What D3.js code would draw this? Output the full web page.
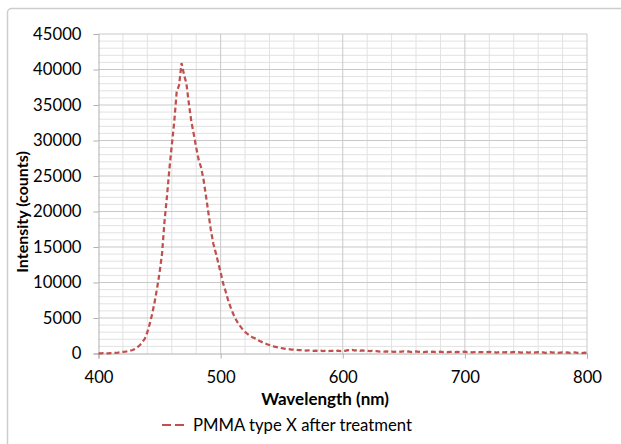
<!DOCTYPE html>
<html>
<head>
  <style>
    body {
      margin: 0;
      background: #fff;
    }
    text {
      font-family: Lato, "Open Sans", sans-serif;
      fill: #000;
    }
    .tick text {
      font-size: 16.7px;
    }
    .axis-title {
      font-weight: bold;
      font-size: 17px;
    }
  </style>
</head>
<body>
  <script src="https://d3js.org/d3.v7.min.js"></script>
  <script>
    // spectrum sampled every 2 nm from 400 to 800 nm
    var wlStart = 400, wlStep = 2;
    var counts = [
      20, 10, 40, 0, 30, 50, 60, 90, 120, 170, 220, 260, 330, 400, 490, 650, 900, 1200, 1600, 2100,
      3000, 4200, 5600, 7300, 9200, 11400, 14000, 18500, 22000, 25900, 29300, 32600, 36800, 37800, 40900, 39300, 38000, 35200, 32700, 30900,
      29000, 27300, 26200, 24500, 22200, 19800, 17400, 15500, 14200, 12800, 11400, 9900, 8800, 7600, 6600, 5700, 4950, 4350, 3850, 3400,
      3050, 2750, 2500, 2300, 2150, 1950, 1750, 1600, 1450, 1300, 1200, 1080, 980, 900, 820, 750, 700, 640, 600, 560,
      530, 510, 480, 470, 450, 420, 440, 400, 380, 420, 360, 390, 350, 400, 330, 380, 360, 300, 410, 350,
      430, 380, 470, 400, 500, 420, 480, 390, 450, 360, 400, 330, 370, 300, 340, 280, 320, 260, 300, 240,
      280, 230, 270, 220, 260, 300, 240, 280, 210, 250, 290, 230, 260, 200, 240, 280, 220, 250, 190, 230,
      270, 210, 240, 180, 220, 260, 200, 230, 170, 210, 250, 190, 220, 160, 200, 240, 180, 210, 150, 190,
      230, 170, 200, 140, 180, 220, 160, 190, 130, 170, 210, 150, 180, 120, 160, 200, 140, 170, 110, 150,
      190, 130, 160, 100, 140, 180, 120, 150, 90, 130, 170, 110, 140, 80, 120, 160, 100, 130, 70, 110, 100
    ];
    var xTicks = [400, 500, 600, 700, 800];
    var yTicks = [0, 5000, 10000, 15000, 20000, 25000, 30000, 35000, 40000, 45000];
    var seriesName = "PMMA type X after treatment";

    var W = 621, H = 444;
    var margin = {top: 34, right: 34, bottom: 90.5, left: 98.5};
    var width = W - margin.left - margin.right,
        height = H - margin.top - margin.bottom;

    var svg = d3.select("body").append("svg")
        .attr("width", W)
        .attr("height", H);

    // chart area frame
    svg.append("rect")
        .attr("x", 7.5).attr("y", 8.5)
        .attr("width", W + 20).attr("height", H + 20)
        .attr("rx", 4)
        .attr("fill", "none")
        .attr("stroke", "#cdcdcd")
        .attr("stroke-width", 1.5);

    var g = svg.append("g")
        .attr("transform", "translate(" + margin.left + "," + margin.top + ")");

    var x = d3.scaleLinear().domain([400, 800]).range([0, width]);
    var y = d3.scaleLinear().domain([0, 45000]).range([height, 0]);

    // minor grid
    g.append("g").selectAll("line")
        .data(d3.range(420, 800, 20).filter(d => d % 100 !== 0))
      .enter().append("line")
        .attr("x1", d => x(d)).attr("x2", d => x(d))
        .attr("y1", 0).attr("y2", height)
        .attr("stroke", "#e2e2e2");
    g.append("g").selectAll("line")
        .data(d3.range(1000, 45000, 1000).filter(d => d % 5000 !== 0))
      .enter().append("line")
        .attr("y1", d => y(d)).attr("y2", d => y(d))
        .attr("x1", 0).attr("x2", width)
        .attr("stroke", "#e2e2e2");

    // major grid
    g.append("g").selectAll("line")
        .data(xTicks.slice(1))
      .enter().append("line")
        .attr("x1", d => x(d)).attr("x2", d => x(d))
        .attr("y1", 0).attr("y2", height)
        .attr("stroke", "#c9c9c9");
    g.append("g").selectAll("line")
        .data(yTicks.slice(1))
      .enter().append("line")
        .attr("y1", d => y(d)).attr("y2", d => y(d))
        .attr("x1", 0).attr("x2", width)
        .attr("stroke", "#c9c9c9");

    var yAxis = g.append("g")
        .call(d3.axisLeft(y).tickValues(yTicks).tickSize(5).tickPadding(12).tickFormat(d3.format("d")));
    var xAxis = g.append("g")
        .attr("transform", "translate(0," + height + ")")
        .call(d3.axisBottom(x).tickValues(xTicks).tickSize(5).tickPadding(13));
    [xAxis, yAxis].forEach(a => {
      a.select(".domain").attr("stroke", "#b0b0b0");
      a.selectAll(".tick line").attr("stroke", "#b0b0b0");
      a.selectAll("text").attr("font-family", null).attr("font-size", null);
    });

    var line = d3.line()
        .x((d, i) => x(wlStart + i * wlStep))
        .y(d => y(d));

    g.append("path")
        .datum(counts)
        .attr("d", line)
        .attr("fill", "none")
        .attr("stroke", "#c0504d")
        .attr("stroke-width", 2.25)
        .attr("stroke-dasharray", "5,3");

    svg.append("text")
        .attr("class", "axis-title")
        .attr("transform", "translate(28,212) rotate(-90)")
        .attr("text-anchor", "middle")
        .style("font-size", "16px")
        .text("Intensity (counts)");

    svg.append("text")
        .attr("class", "axis-title")
        .attr("x", 325).attr("y", 405)
        .attr("text-anchor", "middle")
        .text("Wavelength (nm)");

    // legend
    var legend = svg.append("g").attr("transform", "translate(162,425)");
    legend.append("line")
        .attr("x1", 0).attr("x2", 22)
        .attr("stroke", "#c0504d")
        .attr("stroke-width", 2)
        .attr("stroke-dasharray", "9,4");
    legend.append("text")
        .attr("x", 31).attr("y", 5.5)
        .style("font-size", "16.7px")
        .text(seriesName);
  </script>
</body>
</html>
